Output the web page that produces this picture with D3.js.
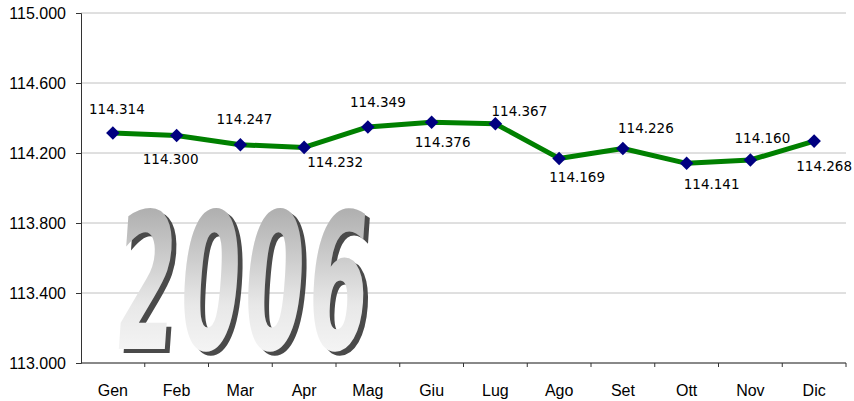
<!DOCTYPE html>
<html>
<head>
<meta charset="utf-8">
<script src="https://cdn.jsdelivr.net/npm/d3@7"></script>
<style>
  body { margin: 0; background: #fff; }
  svg { display: block; }
  .axis text { font-family: "Liberation Sans", Arial, sans-serif; font-size: 16px; fill: #000; }
  .axis path, .axis line { stroke: #333; }
  .lbl { font-family: "DejaVu Sans", Verdana, sans-serif; font-size: 13.5px; fill: #000; }
</style>
</head>
<body>
<div class="container"></div>
<script>
// months (italian) and monthly values
const months = ["Gen", "Feb", "Mar", "Apr", "Mag", "Giu", "Lug", "Ago", "Set", "Ott", "Nov", "Dic"];
const values = [114314, 114300, 114247, 114232, 114349, 114376, 114367, 114169, 114226, 114141, 114160, 114268];
const yTicks = [113000, 113400, 113800, 114200, 114600, 115000];
const yearLabel = "2006";

// where each data label sits relative to its point
const labelDx = [4, -6, 4, 31, 10, 11, 24, 18, 23, 25, 12, 10];
const labelDy = [-19, 28, -21, 20, -20, 25, -8, 24, -15, 26, -17, 30];

const width = 854, height = 401;
const margin = { top: 13, right: 8, bottom: 38, left: 81 };

const it = d3.formatLocale({ decimal: ",", thousands: ".", grouping: [3], currency: ["€", ""] });
const fmt = it.format(",d");

const svg = d3.select(".container").append("svg")
  .attr("width", width)
  .attr("height", height);

const x = d3.scaleBand()
  .domain(months)
  .range([margin.left, width - margin.right]);

const y = d3.scaleLinear()
  .domain([113000, 115000])
  .range([height - margin.bottom, margin.top]);

// gridlines
svg.append("g")
  .selectAll("line")
  .data(yTicks)
  .enter()
  .append("line")
  .attr("x1", margin.left)
  .attr("x2", width - margin.right)
  .attr("y1", d => y(d))
  .attr("y2", d => y(d))
  .attr("stroke", "#c0c0c0")
  .attr("stroke-width", 1);

// wordart-ish year
const defs = svg.append("defs");
const grad = defs.append("linearGradient")
  .attr("id", "wa")
  .attr("x1", 0).attr("y1", 0).attr("x2", 0).attr("y2", 1);
grad.append("stop").attr("offset", "0%").attr("stop-color", "#9a9a9a");
grad.append("stop").attr("offset", "60%").attr("stop-color", "#e8e8e8");
grad.append("stop").attr("offset", "100%").attr("stop-color", "#ffffff");

const wa = svg.append("g").attr("transform", "translate(112,349) skewX(-4)");
[["#4a4a4a", 5, 4], ["url(#wa)", 0, 0]].forEach(([fill, ox, oy]) => {
  wa.append("text")
    .attr("x", ox)
    .attr("y", oy)
    .attr("textLength", 256)
    .attr("lengthAdjust", "spacingAndGlyphs")
    .style("font-family", "'DejaVu Sans', sans-serif")
    .style("font-weight", "bold")
    .style("font-size", "190px")
    .style("letter-spacing", "8px")
    .attr("fill", fill)
    .text(yearLabel);
});

// axes
const yAxis = d3.axisLeft(y)
  .tickValues(yTicks)
  .tickFormat(fmt)
  .tickSize(5)
  .tickPadding(10);
svg.append("g")
  .attr("class", "axis")
  .attr("transform", `translate(${margin.left},0)`)
  .call(yAxis);

const xAxis = d3.axisBottom(x).tickSize(0).tickPadding(22);
const gx = svg.append("g")
  .attr("class", "axis")
  .attr("transform", `translate(0,${height - margin.bottom})`)
  .call(xAxis);
gx.select(".domain").attr("d", `M${margin.left},0H${width - margin.right}`);
// tick marks between categories
gx.selectAll("line.sep")
  .data(months)
  .enter()
  .append("line")
  .attr("class", "sep")
  .attr("x1", d => x(d) + x.bandwidth())
  .attr("x2", d => x(d) + x.bandwidth())
  .attr("y1", 0)
  .attr("y2", 4);

// line
const line = d3.line()
  .x((d, i) => x(months[i]) + x.bandwidth() / 2)
  .y(d => y(d));

svg.append("path")
  .datum(values)
  .attr("fill", "none")
  .attr("stroke", "#008000")
  .attr("stroke-width", 5)
  .attr("stroke-linejoin", "round")
  .attr("d", line);

// markers
svg.append("g")
  .selectAll("path")
  .data(values)
  .enter()
  .append("path")
  .attr("d", d3.symbol(d3.symbolSquare, 92))
  .attr("transform", (d, i) => `translate(${x(months[i]) + x.bandwidth() / 2},${y(d)}) rotate(45)`)
  .attr("fill", "#000080");

// data labels
svg.append("g")
  .selectAll("text")
  .data(values)
  .enter()
  .append("text")
  .attr("class", "lbl")
  .attr("text-anchor", "middle")
  .attr("x", (d, i) => x(months[i]) + x.bandwidth() / 2 + labelDx[i])
  .attr("y", (d, i) => y(d) + labelDy[i])
  .text(d => fmt(d));
</script>
</body>
</html>
